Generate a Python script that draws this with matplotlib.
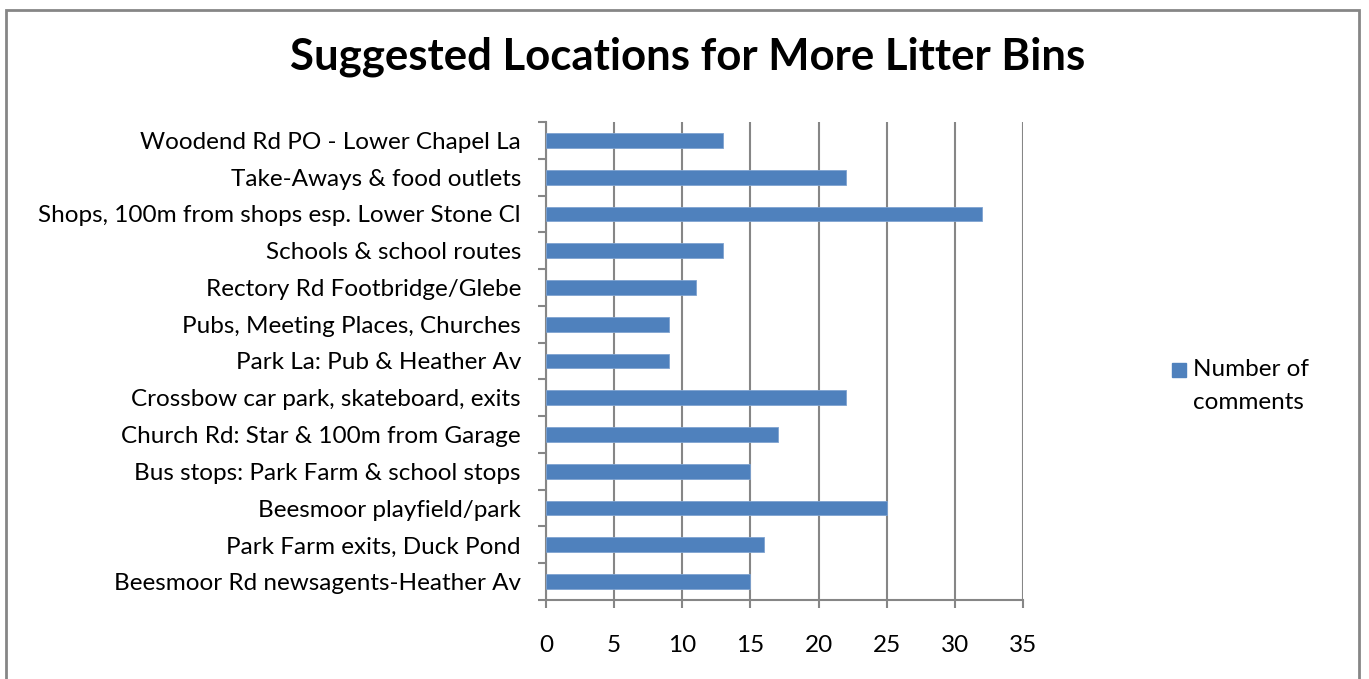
import matplotlib
matplotlib.use("Agg")
import matplotlib.pyplot as plt
from matplotlib.patches import Rectangle

W, H = 1369, 679

locations = [
    "Beesmoor Rd newsagents-Heather Av",
    "Park Farm exits, Duck Pond",
    "Beesmoor playfield/park",
    "Bus stops: Park Farm & school stops",
    "Church Rd: Star & 100m from Garage",
    "Crossbow car park, skateboard, exits",
    "Park La: Pub & Heather Av",
    "Pubs, Meeting Places, Churches",
    "Rectory Rd Footbridge/Glebe",
    "Schools & school routes",
    "Shops, 100m from shops esp. Lower Stone Cl",
    "Take-Aways & food outlets",
    "Woodend Rd PO - Lower Chapel La",
]
comments = [15, 16, 25, 15, 17, 22, 9, 9, 11, 13, 32, 22, 13]
x_ticks = [0, 5, 10, 15, 20, 25, 30, 35]
series_name = "Number of\ncomments"

plt.rcParams['font.family'] = ['Lato', 'DejaVu Sans']
FS = 17.5
BAR = '#4F81BD'

fig = plt.figure(figsize=(W / 100, H / 100), dpi=100)
ax = fig.add_axes([546 / W, 1 - 600 / H, (1023 - 546) / W, (600 - 122) / H])

# outer chart border
fig.patches.append(Rectangle((6 / W, -0.05), (1359 - 6) / W, 1.05 - 10 / H,
                             transform=fig.transFigure, fill=False,
                             edgecolor='#868686', linewidth=2))

ax.barh(range(len(locations)), comments, height=0.4, color=BAR,
        edgecolor='#7FA3D0', linewidth=0.6, zorder=3)

ax.set_xlim(0, 35)
ax.set_ylim(-0.5, len(locations) - 0.5)
ax.set_xticks(x_ticks)
ax.set_xticklabels([str(t) for t in x_ticks], fontsize=FS)
ax.set_yticks(range(len(locations)))
ax.set_yticklabels(locations, fontsize=FS)
ax.set_yticks([i - 0.5 for i in range(len(locations) + 1)], minor=True)
ax.tick_params(axis='y', which='major', length=0, pad=18)
ax.tick_params(axis='y', which='minor', length=6, color='#868686', width=1.5)
ax.tick_params(axis='x', length=6, color='#868686', width=1.5, pad=19)
ax.grid(axis='x', color='#868686', linewidth=1.5, zorder=0)

for side in ['top', 'right']:
    ax.spines[side].set_visible(False)
for side in ['left', 'bottom']:
    ax.spines[side].set_color('#868686')
    ax.spines[side].set_linewidth(1.5)

fig.text(688 / W, 1 - 57 / H, "Suggested Locations for More Litter Bins",
         ha='center', va='center', fontsize=31.5, fontweight='bold')

# legend, Excel style: key square sits beside the first text line
fig.patches.append(Rectangle((1172 / W, 1 - 377 / H), 14 / W, 14 / H,
                             transform=fig.transFigure, color=BAR))
fig.text(1193 / W, 1 - 359 / H, series_name, ha='left', va='top',
         fontsize=FS, linespacing=1.72)

fig.savefig("out.png", dpi=100)
